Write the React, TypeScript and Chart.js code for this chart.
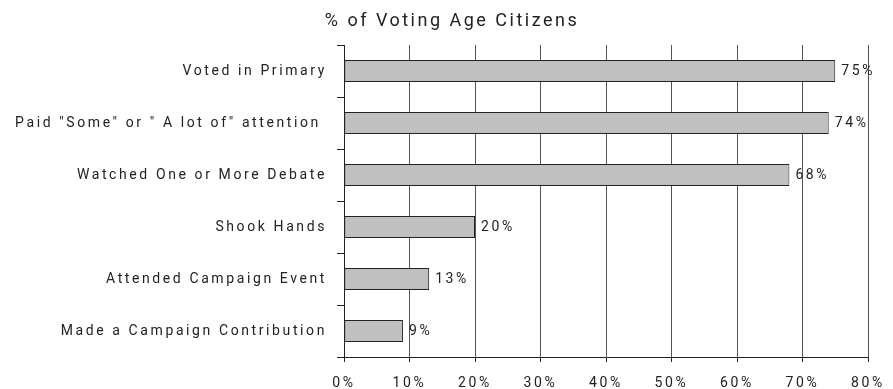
import React, { useEffect, useRef } from "react";
import { Chart, registerables } from "chart.js";

Chart.register(...registerables);

const categories = [
  "Voted in Primary",
  'Paid "Some" or " A lot of" attention ',
  "Watched One or More Debate",
  "Shook Hands",
  "Attended Campaign Event",
  "Made a Campaign Contribution",
];
const percentages = [75, 74, 68, 20, 13, 9];
const xTicks = [0, 10, 20, 30, 40, 50, 60, 70, 80];
const titleText = "% of Voting Age Citizens";

const FONT = '"Roboto", "DejaVu Sans", sans-serif';
const SPACING = "2.6px";

// canvas letter spacing is reset on resize, so re-apply before each phase
const spacingPlugin = {
  id: "spacing",
  beforeInit(chart: any) {
    chart.ctx.letterSpacing = SPACING;
  },
  beforeUpdate(chart: any) {
    chart.ctx.letterSpacing = SPACING;
  },
  beforeLayout(chart: any) {
    chart.ctx.letterSpacing = SPACING;
  },
  beforeDraw(chart: any) {
    chart.ctx.letterSpacing = SPACING;
  },
};

const decorPlugin = {
  id: "decor",
  afterDatasetsDraw(chart: any) {
    const ctx = chart.ctx;
    const meta = chart.getDatasetMeta(0);
    ctx.save();
    ctx.letterSpacing = SPACING;
    ctx.font = `14px ${FONT}`;
    ctx.fillStyle = "#222";
    ctx.textAlign = "left";
    ctx.textBaseline = "middle";
    meta.data.forEach((bar: any, i: number) => {
      ctx.fillText(`${percentages[i]}%`, bar.x + 6, bar.y);
    });
    ctx.restore();
  },
  afterDraw(chart: any) {
    const ctx = chart.ctx;
    ctx.save();
    ctx.letterSpacing = "2.5px";
    ctx.font = `18px ${FONT}`;
    ctx.fillStyle = "#222";
    ctx.textAlign = "center";
    ctx.textBaseline = "middle";
    ctx.fillText(titleText, 452, 21);
    ctx.restore();
  },
};

export default function App() {
  const ref = useRef<HTMLCanvasElement>(null);

  useEffect(() => {
    document.body.style.margin = "0";
    const chart = new Chart(ref.current!, {
      type: "bar",
      data: {
        labels: categories,
        datasets: [
          {
            data: percentages,
            backgroundColor: "#c0c0c0",
            borderColor: "#222",
            borderWidth: 1,
            borderSkipped: false,
            barPercentage: 0.84,
            categoryPercentage: 0.5,
          },
        ],
      },
      options: {
        indexAxis: "y",
        animation: false,
        responsive: false,
        maintainAspectRatio: false,
        layout: { padding: { top: 45, right: 25, left: 0, bottom: 0 } },
        plugins: {
          legend: { display: false },
          title: { display: false },
          tooltip: { enabled: false },
        },
        scales: {
          x: {
            min: 0,
            max: 80,
            afterBuildTicks(scale: any) {
              scale.ticks = xTicks.map((v) => ({ value: v }));
            },
            afterFit(scale: any) {
              scale.height = 32;
              scale.paddingRight = 0;
              scale.paddingLeft = 0;
            },
            grid: {
              color: "#555",
              lineWidth: 1,
              tickLength: 5,
              tickColor: "#222",
            },
            border: { color: "#222", width: 1 },
            ticks: {
              color: "#222",
              padding: 13,
              font: { family: FONT, size: 14 },
              maxRotation: 0,
              callback: (v: any) => `${v}%`,
            },
          },
          y: {
            afterFit(scale: any) {
              scale.width = 344;
            },
            grid: {
              display: true,
              drawOnChartArea: false,
              offset: true,
              tickLength: 7,
              color: "#222",
            },
            border: { color: "#222", width: 1 },
            ticks: {
              color: "#222",
              padding: 10,
              font: { family: FONT, size: 14 },
            },
          },
        },
      },
      plugins: [spacingPlugin, decorPlugin],
    } as any);
    return () => chart.destroy();
  }, []);

  return (
    <div style={{ width: 893, height: 389 }}>
      <canvas ref={ref} width={893} height={389} style={{ display: "block" }} />
    </div>
  );
}
